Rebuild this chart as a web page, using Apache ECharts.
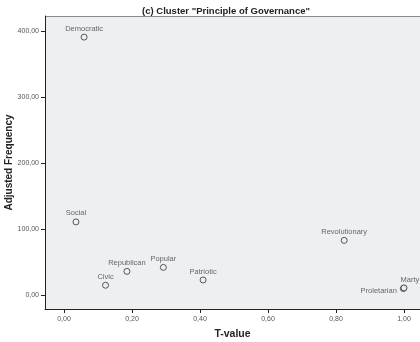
<!DOCTYPE html>
<html><head><meta charset="utf-8">
<script src="https://cdn.jsdelivr.net/npm/echarts@6/dist/echarts.min.js"></script>
<style>html,body{margin:0;padding:0;background:#fff}#c{width:420px;height:342px}</style>
</head><body><div id="c"></div>
<script>
// Terms in the "Principle of Governance" cluster
const names = ['Democratic','Social','Civic','Republican','Popular','Patriotic','Revolutionary','Proletarian','Marty'];
const tValues = [0.059, 0.035, 0.122, 0.185, 0.292, 0.409, 0.824, 0.998, 1.0];
const adjFreq = [391, 111, 15, 36, 42, 23, 83, 10, 11];
const xTicks = [0, 0.2, 0.4, 0.6, 0.8, 1.0];
const yTicks = [0, 100, 200, 300, 400];

const fmt = v => v.toFixed(2).replace('.', ',');
const labelPos = { Proletarian: [-3, 5.5], Marty: [0, -4] };

const points = names.map((n, i) => ({
  value: [tValues[i], adjFreq[i]],
  name: n,
  label: labelPos[n]
    ? { position: labelPos[n], align: n === 'Proletarian' ? 'right' : 'left', verticalAlign: 'middle' }
    : {}
}));

const chart = echarts.init(document.getElementById('c'));
chart.setOption({
  animation: false,
  title: {
    text: '(c) Cluster "Principle of Governance"',
    left: 226, top: 6, padding: 0, textAlign: 'center',
    textStyle: { fontFamily: 'Liberation Sans', fontSize: 9.5, fontWeight: 'bold', color: '#222' }
  },
  grid: {
    left: 45, top: 16, right: 0, bottom: 33, show: true,
    backgroundColor: '#eeeff1', borderWidth: 0,
    containLabel: false, outerBoundsMode: 'none'
  },
  xAxis: {
    type: 'value', min: -0.056, max: 1.047,
    name: 'T-value', nameLocation: 'middle', nameGap: 20, nameMoveOverlap: false,
    nameTextStyle: { fontFamily: 'Liberation Sans', fontSize: 10.5, fontWeight: 'bold', color: '#222' },
    axisLine: { show: true, onZero: false, lineStyle: { color: '#222', width: 1 } },
    axisTick: { show: true, length: 4, customValues: xTicks, lineStyle: { color: '#222' } },
    axisLabel: { customValues: xTicks, formatter: fmt, fontFamily: 'Liberation Sans', fontSize: 7, color: '#555', margin: 7 },
    splitLine: { show: false }
  },
  yAxis: {
    type: 'value', min: -21, max: 423,
    name: 'Adjusted Frequency', nameLocation: 'middle', nameGap: 31, nameRotate: 90, nameMoveOverlap: false,
    nameTextStyle: { fontFamily: 'Liberation Sans', fontSize: 10, fontWeight: 'bold', color: '#222' },
    axisLine: { show: true, onZero: false, lineStyle: { color: '#222', width: 1 } },
    axisTick: { show: true, length: 4, customValues: yTicks, lineStyle: { color: '#222' } },
    axisLabel: { customValues: yTicks, formatter: fmt, fontFamily: 'Liberation Sans', fontSize: 7, color: '#555', margin: 6 },
    splitLine: { show: false }
  },
  graphic: [{
    type: 'line', shape: { x1: 45, y1: 16.5, x2: 420, y2: 16.5 },
    style: { stroke: '#888', lineWidth: 1 }
  }],
  series: [{
    type: 'scatter',
    data: points,
    symbol: 'circle', symbolSize: 6,
    itemStyle: { color: '#eeeff1', borderColor: '#333', borderWidth: 1 },
    label: {
      show: true, position: 'top', distance: 1,
      formatter: p => p.name,
      fontFamily: 'Liberation Sans', fontSize: 7.5, color: '#444'
    }
  }]
});
</script></body></html>
